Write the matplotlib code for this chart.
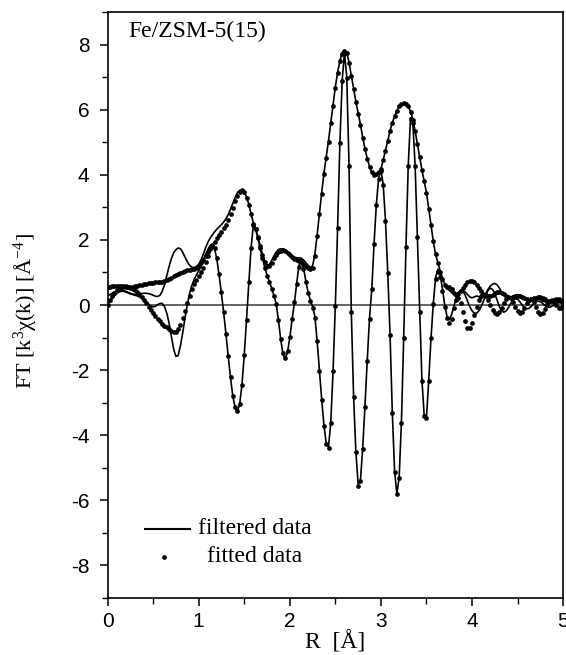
import numpy as np
import matplotlib
matplotlib.use("Agg")
import matplotlib.pyplot as plt
from matplotlib.ticker import MultipleLocator

plt.rcParams['mathtext.fontset'] = 'custom'
plt.rcParams['mathtext.rm'] = 'Liberation Serif'
plt.rcParams['mathtext.it'] = 'Liberation Serif:italic'
plt.rcParams['axes.unicode_minus'] = False

# R grid (0 - 5 A, step 0.025)
r = np.linspace(0, 5, 201)

# filtered data, imaginary part
filt_im = [
    0.00, 0.10, 0.20, 0.28, 0.35, 0.40, 0.42, 0.42, 0.40, 0.37,
    0.34, 0.32, 0.30, 0.28, 0.25, 0.21, 0.16, 0.10, 0.03, -0.03,
    -0.06, -0.04, 0.01, 0.05, 0.05, -0.05, -0.25, -0.55, -0.95, -1.35,
    -1.58, -1.55, -1.25, -0.85, -0.40, 0.00, 0.35, 0.60, 0.78, 0.92,
    1.05, 1.20, 1.38, 1.55, 1.70, 1.82, 1.85, 1.72, 1.40, 0.90,
    0.35, -0.25, -0.90, -1.60, -2.25, -2.80, -3.15, -3.28, -3.05, -2.45,
    -1.55, -0.45, 0.70, 1.75, 2.45, 2.32, 2.05, 1.75, 1.45, 1.15,
    0.92, 0.72, 0.52, 0.30, 0.05, -0.45, -1.05, -1.50, -1.66, -1.45,
    -1.00, -0.45, 0.05, 0.65, 1.20, 1.42, 1.15, 0.75, 0.40, 0.15,
    -0.05, -0.35, -1.10, -2.00, -2.90, -3.70, -4.25, -4.35, -3.60, -2.00,
    0.00, 2.40, 5.00, 6.90, 7.75, 7.00, 4.30, -0.20, -2.80, -4.50,
    -5.50, -5.40, -4.40, -3.10, -1.70, -0.40, 0.50, 1.90, 3.10, 3.90,
    4.15, 3.70, 2.60, 1.00, -0.90, -3.30, -5.10, -5.80, -5.30, -3.60,
    -1.00, 1.80, 4.30, 5.75, 5.60, 4.30, 2.10, -0.20, -2.30, -3.40,
    -3.45, -2.30, -1.00, 0.05, 0.85, 1.10, 0.95, 0.50, 0.00, -0.35,
    -0.45, -0.30, -0.05, 0.20, 0.38, 0.45, 0.42, 0.30, 0.12, -0.05,
    -0.18, -0.25, -0.25, -0.18, -0.05, 0.12, 0.30, 0.45, 0.52, 0.48,
    0.35, 0.15, -0.05, -0.18, -0.22, -0.18, -0.08, 0.05, 0.15, 0.20,
    0.18, 0.10, 0.00, -0.08, -0.12, -0.10, -0.04, 0.04, 0.10, 0.12,
    0.10, 0.05, -0.02, -0.06, -0.07, -0.04, 0.01, 0.05, 0.07, 0.06,
    0.03]

# fitted data, imaginary part
fit_im = [
    0.00, 0.15, 0.28, 0.38, 0.45, 0.50, 0.53, 0.55, 0.55, 0.55,
    0.53, 0.50, 0.46, 0.40, 0.33, 0.24, 0.15, 0.05, -0.05, -0.15,
    -0.25, -0.33, -0.42, -0.50, -0.57, -0.63, -0.68, -0.74, -0.79, -0.82,
    -0.82, -0.75, -0.60, -0.40, -0.18, 0.05, 0.28, 0.48, 0.65, 0.78,
    0.90, 1.02, 1.15, 1.32, 1.52, 1.72, 1.82, 1.75, 1.45, 0.95,
    0.40, -0.22, -0.88, -1.58, -2.22, -2.78, -3.13, -3.26, -3.05, -2.45,
    -1.55, -0.45, 0.70, 1.75, 2.45, 2.32, 2.05, 1.75, 1.45, 1.15,
    0.90, 0.70, 0.50, 0.28, 0.03, -0.45, -1.05, -1.48, -1.63, -1.42,
    -0.98, -0.43, 0.08, 0.65, 1.18, 1.38, 1.10, 0.72, 0.38, 0.12,
    -0.10, -0.40, -1.12, -2.02, -2.92, -3.72, -4.28, -4.40, -3.62, -2.02,
    -0.02, 2.38, 4.98, 6.88, 7.72, 6.98, 4.28, -0.22, -2.82, -4.52,
    -5.55, -5.42, -4.42, -3.12, -1.72, -0.42, 0.48, 1.88, 3.08, 3.88,
    4.12, 3.68, 2.58, 0.98, -0.92, -3.32, -5.12, -5.82, -5.32, -3.62,
    -1.02, 1.78, 4.28, 5.72, 5.58, 4.28, 2.08, -0.22, -2.32, -3.42,
    -3.48, -2.32, -1.02, 0.02, 0.80, 1.02, 0.85, 0.42, -0.05, -0.40,
    -0.55, -0.42, -0.10, 0.15, 0.20, 0.05, -0.20, -0.50, -0.70, -0.72,
    -0.55, -0.30, -0.05, 0.15, 0.28, 0.32, 0.28, 0.15, 0.00, -0.15,
    -0.25, -0.28, -0.22, -0.10, 0.05, 0.18, 0.25, 0.22, 0.10, -0.05,
    -0.18, -0.25, -0.22, -0.10, 0.05, 0.15, 0.18, 0.10, -0.05, -0.20,
    -0.28, -0.25, -0.12, 0.02, 0.12, 0.15, 0.10, 0.00, -0.08, -0.08,
    0.00]

# filtered data, magnitude
filt_mag = [
    0.28, 0.32, 0.36, 0.40, 0.43, 0.45, 0.45, 0.44, 0.42, 0.39,
    0.36, 0.34, 0.33, 0.33, 0.34, 0.35, 0.36, 0.36, 0.35, 0.33,
    0.30, 0.27, 0.26, 0.30, 0.42, 0.62, 0.90, 1.18, 1.42, 1.60,
    1.70, 1.75, 1.73, 1.62, 1.47, 1.33, 1.22, 1.16, 1.15, 1.18,
    1.25, 1.38, 1.55, 1.75, 1.92, 2.05, 2.15, 2.25, 2.33, 2.40,
    2.47, 2.55, 2.65, 2.78, 2.95, 3.12, 3.30, 3.45, 3.52, 3.54,
    3.48, 3.32, 3.10, 2.80, 2.52, 2.36, 2.10, 1.82, 1.55, 1.35,
    1.22, 1.24, 1.36, 1.50, 1.62, 1.70, 1.73, 1.72, 1.70, 1.64,
    1.57, 1.51, 1.47, 1.45, 1.45, 1.44, 1.38, 1.30, 1.22, 1.16,
    1.20, 1.55, 2.15, 2.80, 3.45, 4.05, 4.55, 5.05, 5.60, 6.15,
    6.70, 7.15, 7.50, 7.75, 7.82, 7.75, 7.45, 7.05, 6.65, 6.25,
    5.90, 5.55, 5.15, 4.80, 4.50, 4.25, 4.08, 4.00, 4.02, 4.10,
    4.18, 4.45, 4.75, 5.05, 5.35, 5.60, 5.80, 5.95, 6.10, 6.18,
    6.20, 6.18, 6.10, 5.95, 5.70, 5.35, 4.95, 4.55, 4.15, 3.80,
    3.45, 2.95, 2.45, 1.95, 1.55, 1.30, 1.05, 0.82, 0.65, 0.52,
    0.45, 0.38, 0.35, 0.33, 0.38, 0.45, 0.45, 0.40, 0.32, 0.25,
    0.22, 0.25, 0.28, 0.25, 0.20, 0.25, 0.35, 0.48, 0.58, 0.64,
    0.66, 0.62, 0.52, 0.40, 0.30, 0.24, 0.22, 0.24, 0.28, 0.31,
    0.32, 0.30, 0.25, 0.20, 0.16, 0.15, 0.17, 0.19, 0.20, 0.19,
    0.16, 0.12, 0.10, 0.10, 0.12, 0.13, 0.13, 0.11, 0.09, 0.08,
    0.08]

# fitted data, magnitude
fit_mag = [
    0.55, 0.56, 0.57, 0.58, 0.58, 0.58, 0.58, 0.58, 0.57, 0.56,
    0.56, 0.56, 0.57, 0.58, 0.60, 0.62, 0.64, 0.66, 0.67, 0.68,
    0.69, 0.70, 0.70, 0.71, 0.72, 0.74, 0.76, 0.80, 0.84, 0.88,
    0.92, 0.95, 0.98, 1.01, 1.04, 1.06, 1.08, 1.10, 1.12, 1.15,
    1.20, 1.28, 1.38, 1.50, 1.62, 1.74, 1.84, 1.95, 2.05, 2.15,
    2.25, 2.35, 2.47, 2.60, 2.78, 2.98, 3.18, 3.35, 3.47, 3.52,
    3.47, 3.30, 3.08, 2.78, 2.50, 2.34, 2.08, 1.80, 1.53, 1.33,
    1.20, 1.20, 1.30, 1.43, 1.55, 1.63, 1.67, 1.68, 1.66, 1.61,
    1.55, 1.48, 1.42, 1.38, 1.35, 1.32, 1.26, 1.20, 1.14, 1.10,
    1.14, 1.50, 2.12, 2.78, 3.42, 4.02, 4.52, 5.02, 5.58, 6.12,
    6.68, 7.12, 7.48, 7.72, 7.80, 7.73, 7.44, 7.04, 6.64, 6.24,
    5.88, 5.54, 5.14, 4.79, 4.49, 4.24, 4.07, 3.99, 4.01, 4.09,
    4.17, 4.44, 4.74, 5.04, 5.34, 5.59, 5.80, 5.96, 6.10, 6.18,
    6.20, 6.18, 6.10, 5.94, 5.69, 5.34, 4.94, 4.54, 4.14, 3.80,
    3.45, 2.96, 2.46, 1.96, 1.56, 1.28, 1.02, 0.80, 0.62, 0.55,
    0.55, 0.48, 0.38, 0.32, 0.34, 0.42, 0.52, 0.62, 0.70, 0.74,
    0.74, 0.70, 0.62, 0.52, 0.42, 0.35, 0.30, 0.28, 0.29, 0.32,
    0.36, 0.39, 0.40, 0.38, 0.33, 0.27, 0.24, 0.23, 0.24, 0.26,
    0.28, 0.28, 0.26, 0.22, 0.18, 0.16, 0.17, 0.20, 0.23, 0.25,
    0.25, 0.22, 0.17, 0.13, 0.11, 0.12, 0.15, 0.17, 0.17, 0.15,
    0.12]

serif = 'Liberation Serif'

fig = plt.figure(figsize=(5.66, 6.55), dpi=100)
ax = fig.add_axes([0.19, 0.087, 0.805, 0.8947])

# zero line
ax.axhline(0, color='#3a3a3a', lw=1.1, zorder=1)

# filtered data (thin lines)
ax.plot(r, filt_mag, color='k', lw=1.2, zorder=2)
ax.plot(r, filt_im, color='k', lw=1.2, zorder=2)

# fitted data (dots)
ax.plot(r, fit_mag, 'o', color='k', ms=3.4, mew=0, zorder=3)
ax.plot(r, fit_im, 'o', color='k', ms=3.4, mew=0, zorder=3)

ax.set_xlim(0, 5)
ax.set_ylim(-9, 9)
ax.xaxis.set_major_locator(MultipleLocator(1))
ax.xaxis.set_minor_locator(MultipleLocator(0.5))
ax.yaxis.set_major_locator(MultipleLocator(2))
ax.yaxis.set_minor_locator(MultipleLocator(1))
ax.tick_params(which='major', direction='out', length=6, width=1.1,
               labelsize=15)
ax.tick_params(which='minor', direction='out', length=4, width=1.0)
ax.tick_params(axis='y', pad=7)
ax.tick_params(axis='x', pad=4)
for lab in ax.get_xticklabels() + ax.get_yticklabels():
    lab.set_family('Liberation Sans')
for s in ax.spines.values():
    s.set_linewidth(1.2)

ax.set_xlabel('R  [Å]', family=serif, fontsize=17, labelpad=0)
ax.set_ylabel(r'FT [k$^3$χ(k)] [Å$^{-4}$]', family=serif, fontsize=16)
ax.yaxis.set_label_coords(-0.15, 0.49)

ax.text(0.046, 0.985, 'Fe/ZSM-5(15)', transform=ax.transAxes,
        family=serif, fontsize=17, va='top', ha='left')

# legend
ax.plot([0.083, 0.18], [0.118, 0.118], transform=ax.transAxes,
        color='k', lw=1.5)
ax.text(0.198, 0.118, 'filtered data', transform=ax.transAxes,
        family=serif, fontsize=17, va='center')
ax.plot([0.125], [0.07], 'o', transform=ax.transAxes, color='k',
        ms=3.4, mew=0)
ax.text(0.219, 0.07, 'fitted data', transform=ax.transAxes,
        family=serif, fontsize=17, va='center')

fig.savefig('out.png', dpi=100)
